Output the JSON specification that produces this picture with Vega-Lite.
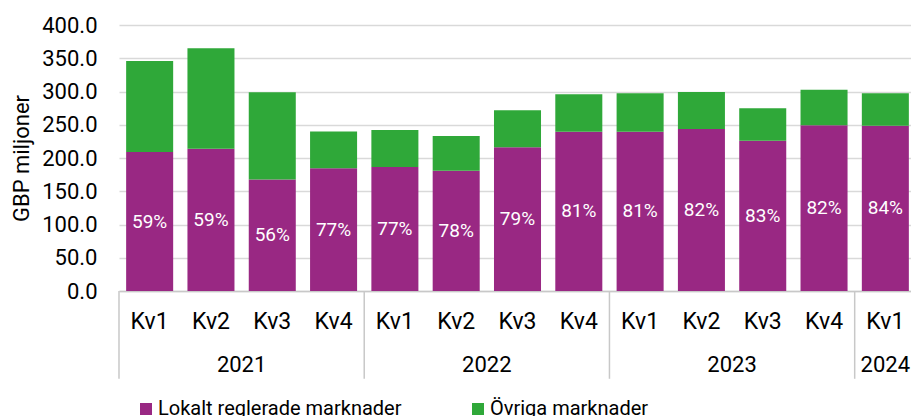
{
  "$schema": "https://vega.github.io/schema/vega-lite/v6.json",
  "width": 792,
  "height": 266,
  "autosize": {"type": "none"},
  "padding": {"left": 119, "top": 25, "right": 0, "bottom": 125},
  "background": "white",
  "config": {
    "font": "Roboto",
    "view": {"stroke": null},
    "axisX": {
      "labelFont": "Roboto",
      "labelAngle": 0,
      "labelFontSize": 23,
      "labelColor": "#000000",
      "labelPadding": 30,
      "labelBaseline": "middle",
      "ticks": false,
      "grid": false,
      "domainColor": "#c8c8c8",
      "domainWidth": 1.5
    },
    "axisY": {
      "labelFont": "Roboto",
      "titleFont": "Roboto",
      "titleFontSize": 22,
      "titleFontWeight": "normal",
      "titleColor": "#000000",
      "titlePadding": 8,
      "labelFontSize": 22,
      "labelColor": "#000000",
      "labelPadding": 22,
      "ticks": false,
      "domain": false,
      "gridColor": "#d9d9d9",
      "gridWidth": 1.5
    },
    "legend": {"labelFont": "Roboto"}
  },
  "data": {
    "values": [
      {"key": "2021 Kv1", "year": "2021", "q": "Kv1", "lokalt": 209, "ovriga": 137, "pct": "59%"},
      {"key": "2021 Kv2", "year": "2021", "q": "Kv2", "lokalt": 214, "ovriga": 151, "pct": "59%"},
      {"key": "2021 Kv3", "year": "2021", "q": "Kv3", "lokalt": 167.5, "ovriga": 131.5, "pct": "56%"},
      {"key": "2021 Kv4", "year": "2021", "q": "Kv4", "lokalt": 184.5, "ovriga": 55.5, "pct": "77%"},
      {"key": "2022 Kv1", "year": "2022", "q": "Kv1", "lokalt": 186.5, "ovriga": 55.5, "pct": "77%"},
      {"key": "2022 Kv2", "year": "2022", "q": "Kv2", "lokalt": 181, "ovriga": 52, "pct": "78%"},
      {"key": "2022 Kv3", "year": "2022", "q": "Kv3", "lokalt": 216, "ovriga": 55.7, "pct": "79%"},
      {"key": "2022 Kv4", "year": "2022", "q": "Kv4", "lokalt": 239.6, "ovriga": 56.1, "pct": "81%"},
      {"key": "2023 Kv1", "year": "2023", "q": "Kv1", "lokalt": 239.6, "ovriga": 57.6, "pct": "81%"},
      {"key": "2023 Kv2", "year": "2023", "q": "Kv2", "lokalt": 243.6, "ovriga": 55.6, "pct": "82%"},
      {"key": "2023 Kv3", "year": "2023", "q": "Kv3", "lokalt": 226, "ovriga": 48.7, "pct": "83%"},
      {"key": "2023 Kv4", "year": "2023", "q": "Kv4", "lokalt": 249.1, "ovriga": 53.6, "pct": "82%"},
      {"key": "2024 Kv1", "year": "2024", "q": "Kv1", "lokalt": 248.6, "ovriga": 48.6, "pct": "84%"}
    ]
  },
  "layer": [
    {
      "transform": [{"fold": ["lokalt", "ovriga"], "as": ["serie", "value"]}],
      "mark": {"type": "bar"},
      "encoding": {
        "x": {
          "field": "key", "type": "nominal", "sort": null,
          "scale": {"paddingInner": 0.233, "paddingOuter": 0.1165, "range": [0, 797]},
          "axis": {"title": null, "labelExpr": "split(datum.value, ' ')[1]"}
        },
        "y": {
          "field": "value", "type": "quantitative", "stack": "zero",
          "scale": {"domain": [0, 400], "nice": false},
          "axis": {"title": "GBP miljoner", "values": [0, 50, 100, 150, 200, 250, 300, 350, 400], "format": ".1f"}
        },
        "color": {
          "field": "serie", "type": "nominal",
          "scale": {"domain": ["lokalt", "ovriga"], "range": ["#992883", "#2fa839"]},
          "legend": {
            "title": null,
            "orient": "none",
            "direction": "horizontal",
            "legendX": 17,
            "legendY": 374,
            "padding": 0,
            "symbolType": "square",
            "symbolSize": 144,
            "symbolStrokeWidth": 0,
            "labelFontSize": 20,
            "labelColor": "#000000",
            "labelOffset": 2,
            "labelLimit": 500,
            "columnPadding": 66,
            "labelExpr": "datum.value == 'lokalt' ? 'Lokalt reglerade marknader' : 'Övriga marknader'"
          }
        },
        "order": {"field": "serie", "type": "nominal"}
      }
    },
    {
      "transform": [{"calculate": "datum.lokalt / 2", "as": "mid"}],
      "mark": {"type": "text", "color": "white", "fontSize": 19, "baseline": "middle", "align": "center"},
      "encoding": {
        "x": {"field": "key", "type": "nominal", "sort": null, "axis": {"title": null, "labelExpr": "split(datum.value, ' ')[1]"}},
        "y": {"field": "mid", "type": "quantitative", "scale": {"domain": [0, 400], "nice": false}, "axis": {"title": "GBP miljoner", "values": [0, 50, 100, 150, 200, 250, 300, 350, 400], "format": ".1f"}},
        "text": {"field": "pct"}
      }
    },
    {
      "transform": [{"filter": "datum.q == 'Kv1'"}],
      "mark": {"type": "rule", "color": "#c8c8c8", "strokeWidth": 1.5},
      "encoding": {
        "x": {"field": "key", "type": "nominal", "sort": null, "bandPosition": -0.152, "axis": {"title": null, "labelExpr": "split(datum.value, ' ')[1]"}},
        "y": {"datum": 0, "type": "quantitative", "scale": {"domain": [0, 400], "nice": false}, "axis": {"title": "GBP miljoner", "values": [0, 50, 100, 150, 200, 250, 300, 350, 400], "format": ".1f"}},
        "y2": {"datum": -132}
      }
    },
    {
      "transform": [{"filter": "datum.q == 'Kv2'"}],
      "mark": {"type": "text", "fontSize": 22, "color": "#000000", "baseline": "middle", "align": "center"},
      "encoding": {
        "x": {"field": "key", "type": "nominal", "sort": null, "bandPosition": 1.152, "axis": {"title": null, "labelExpr": "split(datum.value, ' ')[1]"}},
        "y": {"datum": -112, "type": "quantitative", "scale": {"domain": [0, 400], "nice": false}, "axis": {"title": "GBP miljoner", "values": [0, 50, 100, 150, 200, 250, 300, 350, 400], "format": ".1f"}},
        "text": {"field": "year"}
      }
    },
    {
      "transform": [{"filter": "datum.year == '2024'"}],
      "mark": {"type": "text", "fontSize": 22, "color": "#000000", "baseline": "middle", "align": "center"},
      "encoding": {
        "x": {"field": "key", "type": "nominal", "sort": null, "axis": {"title": null, "labelExpr": "split(datum.value, ' ')[1]"}},
        "y": {"datum": -112, "type": "quantitative", "scale": {"domain": [0, 400], "nice": false}, "axis": {"title": "GBP miljoner", "values": [0, 50, 100, 150, 200, 250, 300, 350, 400], "format": ".1f"}},
        "text": {"field": "year"}
      }
    }
  ]
}
